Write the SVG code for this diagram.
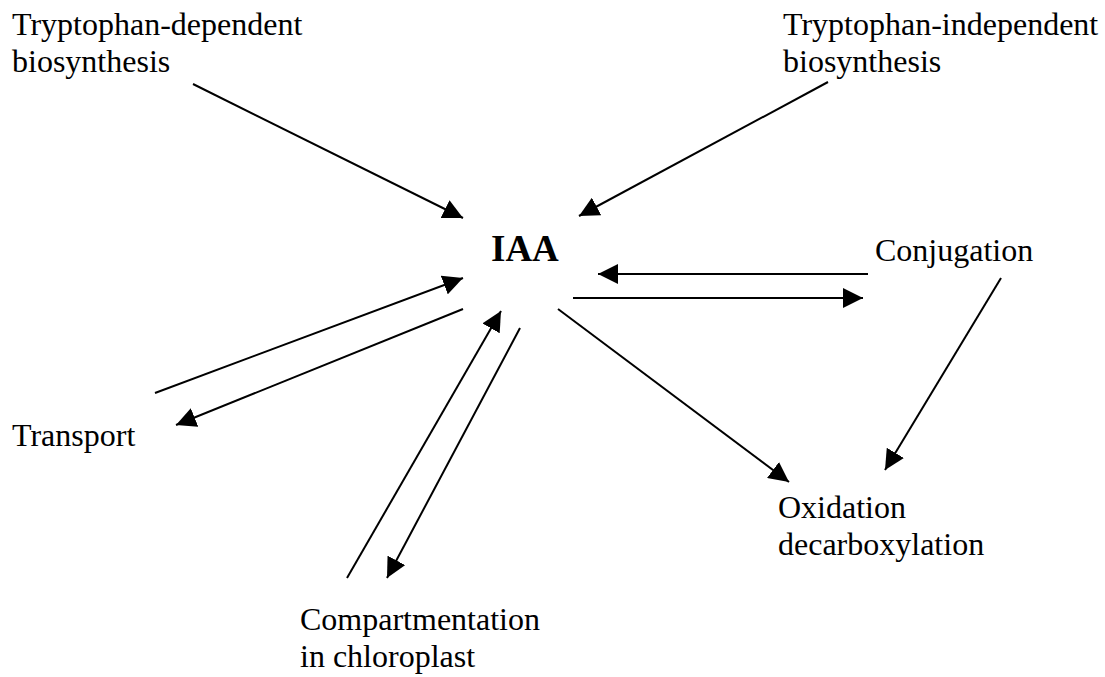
<svg xmlns="http://www.w3.org/2000/svg" width="1105" height="677" viewBox="0 0 1105 677">
<defs>
<style>
text{font-family:'Liberation Serif','Times New Roman',Times,serif;fill:#000}
.t{font-size:32px}
.b{font-size:37px;font-weight:bold}
.c line{stroke:#000;stroke-width:2;marker-end:url(#ah)}
</style>
<marker id="ah" markerUnits="userSpaceOnUse" markerWidth="20" markerHeight="20" refX="20" refY="10" orient="auto" viewBox="0 0 20 20">
<path d="M0,0 L20,10 L0,20 z" fill="#000"/>
</marker>
</defs>
<rect width="1105" height="677" fill="#fff"/>
<g font-family="'Liberation Serif', 'Times New Roman', Times, serif">
<g id="n-trpdep"><text class="t" x="12" y="35">Tryptophan-dependent</text><text class="t" x="12" y="72">biosynthesis</text></g>
<g id="n-trpindep"><text class="t" x="783" y="35">Tryptophan-independent</text><text class="t" x="783" y="72">biosynthesis</text></g>
<g id="n-iaa"><text class="b" x="491" y="261">IAA</text></g>
<g id="n-conj"><text class="t" x="875" y="261">Conjugation</text></g>
<g id="n-transport"><text class="t" x="12" y="446">Transport</text></g>
<g id="n-oxid"><text class="t" x="778" y="518">Oxidation</text><text class="t" x="778" y="555">decarboxylation</text></g>
<g id="n-comp"><text class="t" x="300" y="630">Compartmentation</text><text class="t" x="300" y="667">in chloroplast</text></g>
</g>
<g id="connectors" class="c">
<line x1="193" y1="84" x2="463" y2="218"/>
<line x1="828" y1="82" x2="579" y2="216"/>
<line x1="868" y1="274" x2="598" y2="274"/>
<line x1="573" y1="298" x2="863" y2="298"/>
<line x1="155" y1="393" x2="463" y2="278"/>
<line x1="463" y1="309" x2="176" y2="425"/>
<line x1="347" y1="578" x2="501" y2="311"/>
<line x1="520" y1="328" x2="387" y2="578"/>
<line x1="558" y1="309" x2="789" y2="482"/>
<line x1="1001" y1="278" x2="885" y2="470"/>
</g>
</svg>
